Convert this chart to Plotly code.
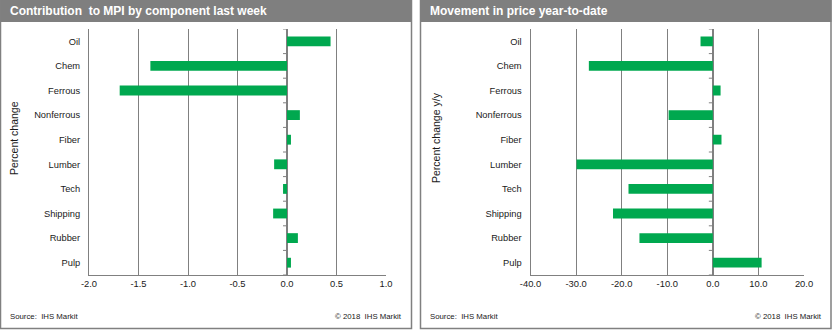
import plotly.graph_objects as go

W, H = 838, 335

categories = ["Oil", "Chem", "Ferrous", "Nonferrous", "Fiber", "Lumber", "Tech", "Shipping", "Rubber", "Pulp"]
contribution_last_week = [0.44, -1.38, -1.69, 0.13, 0.04, -0.13, -0.04, -0.14, 0.11, 0.04]
price_ytd = [-2.7, -27.2, 1.7, -9.7, 1.9, -29.9, -18.5, -21.9, -16.1, 10.7]

left_tickvals = [-2.0, -1.5, -1.0, -0.5, 0.0, 0.5, 1.0]
left_ticktext = ["-2.0", "-1.5", "-1.0", "-0.5", "0.0", "0.5", "1.0"]
right_tickvals = [-40, -30, -20, -10, 0, 10, 20]
right_ticktext = ["-40.0", "-30.0", "-20.0", "-10.0", "0.0", "10.0", "20.0"]

left_title = "Contribution\u00a0 to MPI by component last week"
right_title = "Movement in price year-to-date"
left_ytitle = "Percent change"
right_ytitle = "Percent change y/y"
source_text = "Source:\u00a0 IHS Markit"
copyright_text = "\u00a9 2018\u00a0 IHS Markit"

FONT = "Liberation Sans, Arial, sans-serif"
GREEN = "#00A84F"
GRAY = "#808080"
TXT = "#1a1a1a"


def px(x):
    return x / W


def py(y):
    return 1 - y / H


fig = go.Figure()
fig.add_trace(go.Bar(x=contribution_last_week, y=categories, orientation="h",
                     marker=dict(color=GREEN, line=dict(width=0)),
                     xaxis="x", yaxis="y", showlegend=False))
fig.add_trace(go.Bar(x=price_ytd, y=categories, orientation="h",
                     marker=dict(color=GREEN, line=dict(width=0)),
                     xaxis="x2", yaxis="y2", showlegend=False))

plot_top, plot_bot = 29, 275
ydom = [py(plot_bot), py(plot_top)]

xcommon = dict(showgrid=True, gridcolor=GRAY, gridwidth=1, zeroline=True, zerolinecolor=GRAY,
               zerolinewidth=1.5, showline=True, linecolor=GRAY, linewidth=1, ticks="",
               automargin=False, tickmode="array",
               tickfont=dict(family=FONT, size=9.4, color=TXT))
ycommon = dict(type="category", range=[len(categories) - 0.5, -0.5], showgrid=False, zeroline=False,
               showline=True, linecolor=GRAY, linewidth=1, ticks="", ticklabelstandoff=6,
               automargin=False,
               tickfont=dict(family=FONT, size=9.3, color=TXT))

fig.update_layout(
    template="none",
    width=W, height=H, margin=dict(l=0, r=0, t=0, b=0, pad=0, autoexpand=False),
    paper_bgcolor="white", plot_bgcolor="white", bargap=0.6,
    xaxis=dict(domain=[px(89), px(386)], range=[-2.0, 1.0], tickvals=left_tickvals,
               ticktext=left_ticktext, anchor="y", **xcommon),
    yaxis=dict(domain=ydom, anchor="x", **ycommon),
    xaxis2=dict(domain=[px(530.5), px(804)], range=[-40, 20], tickvals=right_tickvals,
                ticktext=right_ticktext, anchor="y2", **xcommon),
    yaxis2=dict(domain=ydom, anchor="x2", **ycommon),
)

shapes = []
annotations = []
panels = [
    (0.5, 411.5, "x", "y", left_title, left_ytitle, 14),
    (420.5, 831, "x2", "y2", right_title, right_ytitle, 436),
]
for (x0, x1, xr, yr, title, ytitle, ytx) in panels:
    # header bar
    shapes.append(dict(type="rect", xref="paper", yref="paper", x0=px(x0 - 0.5), x1=px(x1 + 0.5),
                       y0=py(22), y1=py(0), fillcolor="#7F7F7F", line=dict(width=0), layer="below"))
    # panel border
    shapes.append(dict(type="rect", xref="paper", yref="paper", x0=px(x0), x1=px(x1),
                       y0=py(328.5), y1=py(0), fillcolor="rgba(0,0,0,0)", line=dict(color=GRAY, width=1.5)))
    # tick marks at category boundaries along the zero line
    for i in range(len(categories) + 1):
        shapes.append(dict(type="line", xref=xr, yref=yr, xsizemode="pixel", xanchor=0,
                           x0=-4, x1=0, y0=i - 0.5, y1=i - 0.5, line=dict(color=GRAY, width=1)))
    annotations.append(dict(text="<b>" + title + "</b>", xref="paper", yref="paper",
                            x=px(x0 + 7.5), y=py(11.5), xanchor="left", yanchor="middle", showarrow=False,
                            font=dict(family=FONT, size=12, color="white")))
    annotations.append(dict(text=ytitle, xref="paper", yref="paper", textangle=-90,
                            x=px(ytx), y=py(138), xanchor="center", yanchor="middle", showarrow=False,
                            font=dict(family=FONT, size=10.5, color=TXT)))
    annotations.append(dict(text=source_text, xref="paper", yref="paper",
                            x=px(x0 + 7.5), y=py(316), xanchor="left", yanchor="middle", showarrow=False,
                            font=dict(family=FONT, size=7.8, color=TXT)))
    annotations.append(dict(text=copyright_text, xref="paper", yref="paper",
                            x=px(x1 - 7.5), y=py(316), xanchor="right", yanchor="middle", showarrow=False,
                            font=dict(family=FONT, size=7.8, color=TXT)))

fig.update_layout(shapes=shapes, annotations=annotations)
fig.write_html("out.html")
